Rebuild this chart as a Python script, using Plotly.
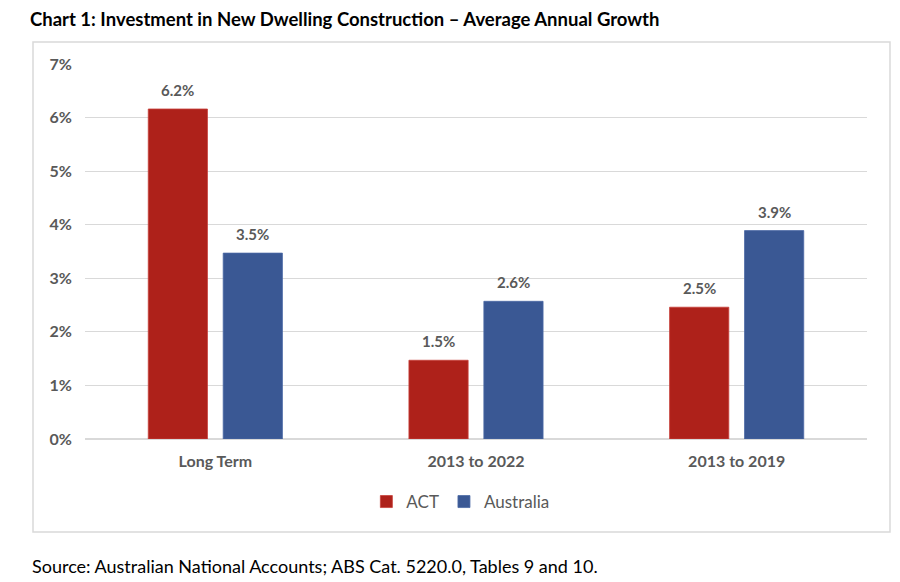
import plotly.graph_objects as go

# data (bar heights sit a little under the rounded labels)
periods = ["Long Term", "2013 to 2022", "2013 to 2019"]
act_growth = [6.16, 1.47, 2.46]
aus_growth = [3.47, 2.57, 3.89]

act_color = "#AE211A"
aus_color = "#3A5894"
grey = "#595959"
font_name = "Lato"

fig = go.Figure()

fig.add_trace(go.Bar(
    x=periods, y=act_growth, name="ACT",
    marker=dict(color=act_color, line=dict(color="#C8403A", width=0.8)),
))
fig.add_trace(go.Bar(
    x=periods, y=aus_growth, name="Australia",
    marker=dict(color=aus_color, line=dict(color="#4A68A4", width=0.8)),
))

# value labels above each bar (bars sit +-37.5px from the category centre)
labels = []
for series, shift in [(act_growth, -37.5), (aus_growth, 37.5)]:
    for cat, v in zip(periods, series):
        labels.append(dict(
            x=cat, y=v, xref="x", yref="y", xshift=shift, yshift=19,
            text=f"{v:.1f}%", showarrow=False, yanchor="middle",
            font=dict(size=15, color=grey, family=font_name, weight="bold"),
        ))

labels.append(dict(
    text="Source: Australian National Accounts; ABS Cat. 5220.0, Tables 9 and 10.",
    xref="paper", yref="paper", x=-0.0703, y=-0.339, xanchor="left", yanchor="middle",
    showarrow=False, font=dict(size=18, color="black", family=font_name),
))

# outer frame around the chart
fig.add_shape(type="rect", xref="paper", yref="paper",
              x0=-0.0665, x1=1.0294, y0=-0.248, y1=1.0587,
              line=dict(color="#D9D9D9", width=1.5))

# page has an 8px body margin, so the figure is sized a bit smaller than the window
fig.update_layout(
    width=892, height=574,
    margin=dict(l=77, r=33, t=56, b=143, autoexpand=False),
    paper_bgcolor="white", plot_bgcolor="white",
    font=dict(family=font_name, color=grey),
    barmode="group", bargap=0.425, bargroupgap=0.21,
    title=dict(text="<b>Chart 1: Investment in New Dwelling Construction – Average Annual Growth</b>",
               x=0.0247, xanchor="left", y=0.9805, yanchor="middle",
               font=dict(size=18.5, color="black", family=font_name)),
    legend=dict(orientation="h", x=0.48, xanchor="center", y=-0.168, yanchor="middle",
                font=dict(size=17, color=grey), traceorder="normal",
                itemwidth=30),
    showlegend=True,
    annotations=labels,
)

fig.update_yaxes(range=[0, 7], dtick=1, ticksuffix="%", showgrid=True, automargin=False,
                 gridcolor="#D9D9D9", gridwidth=1, zeroline=True, zerolinecolor="#D9D9D9",
                 tickfont=dict(size=16, color=grey, weight="bold"), ticks="", ticklabelstandoff=12)
fig.update_xaxes(showline=True, linecolor="#D9D9D9", ticks="", automargin=False,
                 tickfont=dict(size=16, color=grey, weight="bold"), ticklabelstandoff=8)

fig.write_html("out.html")
